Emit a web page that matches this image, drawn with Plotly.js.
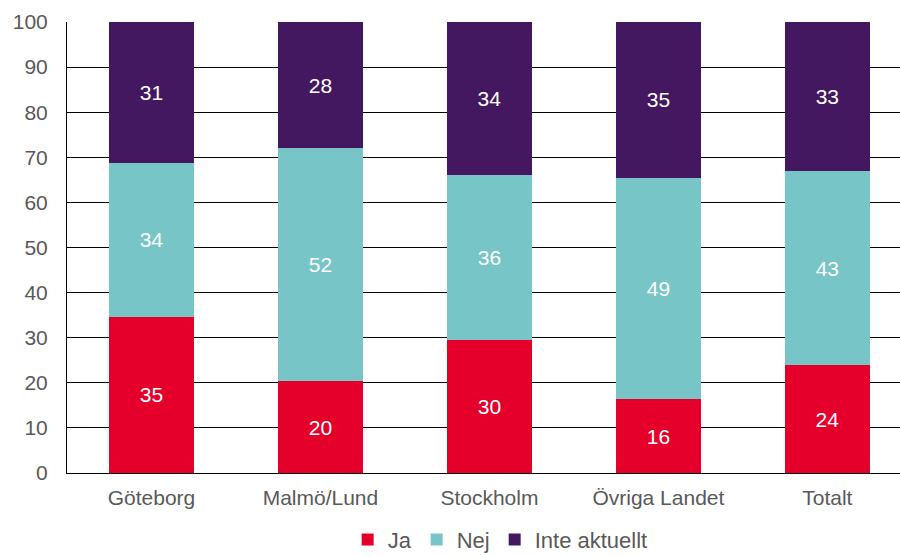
<!DOCTYPE html>
<html>
<head>
<meta charset="utf-8">
<script src="https://cdn.plot.ly/plotly-3.0.1.min.js"></script>
<style>html,body{margin:0;padding:0;background:#fff;}#chart{width:900px;height:556px;}</style>
</head>
<body>
<div id="chart"></div>
<script>
const categories = ["Göteborg", "Malmö/Lund", "Stockholm", "Övriga Landet", "Totalt"];
const ja = [34.7, 20.4, 29.6, 16.3, 23.9];
const nej = [34.1, 51.6, 36.4, 49.2, 43.1];
const inteAktuellt = [31.2, 28.0, 34.0, 34.6, 33.0];
const seriesNames = ["Ja", "Nej", "Inte aktuellt"];
const colors = ["#E4002B", "#78C5C7", "#431860"];
const yTicks = [0, 10, 20, 30, 40, 50, 60, 70, 80, 90, 100];

const font = "Liberation Sans, Arial, sans-serif";
const data = [ja, nej, inteAktuellt].map((vals, i) => ({
  type: "bar",
  name: seriesNames[i],
  x: categories,
  y: vals,
  width: 0.5,
  marker: {color: colors[i], line: {width: 0}},
  texttemplate: "%{y:.0f}",
  textposition: "inside",
  insidetextanchor: "middle",
  textangle: 0,
  textfont: {color: "#ffffff", size: 21, family: font},
  hoverinfo: "none"
}));

const layout = {
  width: 900, height: 556,
  barmode: "stack",
  margin: {l: 67, r: 0, t: 22, b: 83, autoexpand: false},
  paper_bgcolor: "#fff", plot_bgcolor: "#fff",
  font: {family: font, size: 21, color: "#595959"},
  showlegend: true,
  legend: {orientation: "h", x: 0.52, xanchor: "center", y: -0.148, yanchor: "middle",
           font: {size: 22, color: "#595959", family: font}, itemwidth: 30, traceorder: "normal"},
  xaxis: {range: [-0.5, 4.43], showline: true, linecolor: "#000", linewidth: 1,
          showgrid: false, ticks: "", ticklabelstandoff: 6, tickfont: {size: 21, color: "#595959"}, fixedrange: true},
  yaxis: {range: [0, 100], tickvals: yTicks, showline: true, linecolor: "#000", linewidth: 1,
          showgrid: true, gridcolor: "#000", gridwidth: 1, zeroline: false, ticks: "",
          ticklabelstandoff: 14, tickfont: {size: 21, color: "#595959"}, fixedrange: true}
};

Plotly.newPlot("chart", data, layout, {displayModeBar: false, staticPlot: true});
</script>
</body>
</html>
